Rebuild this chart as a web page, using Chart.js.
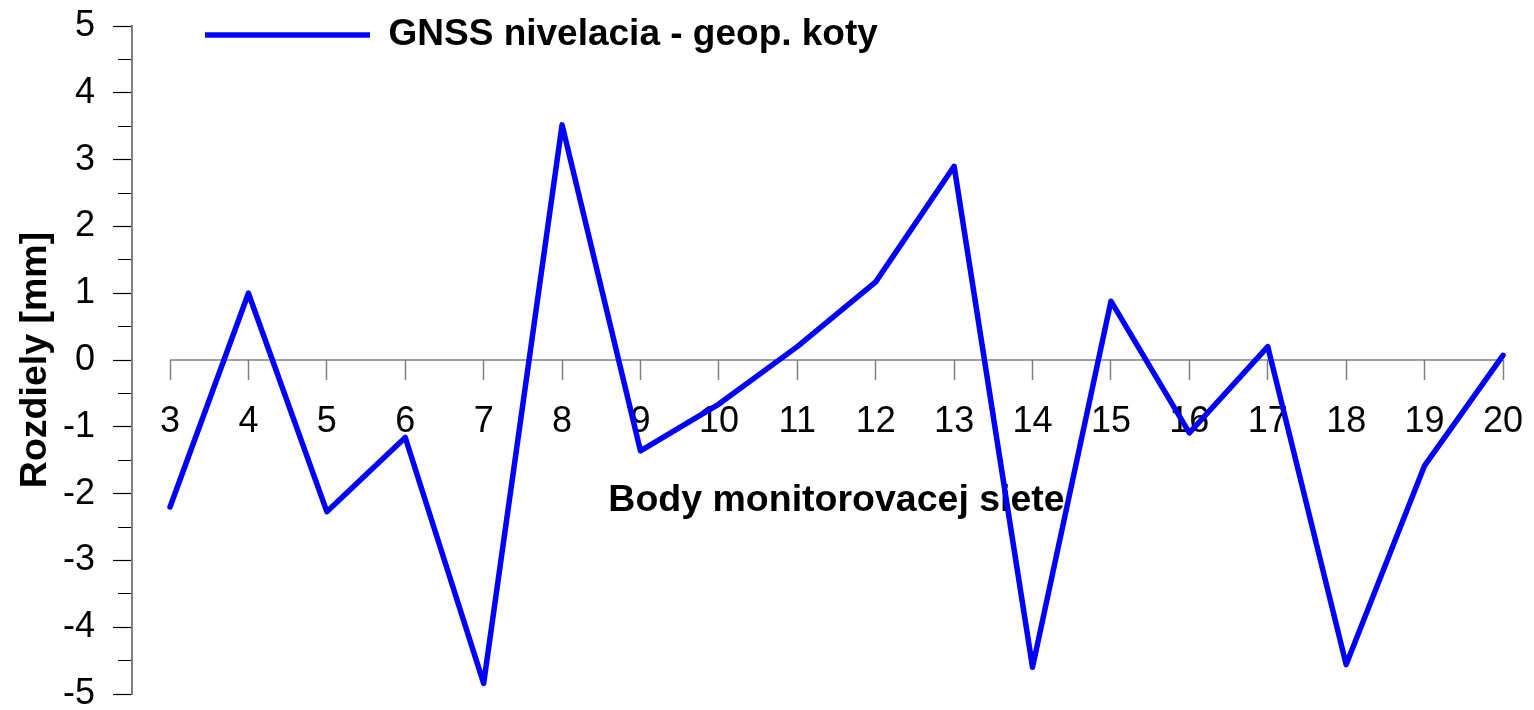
<!DOCTYPE html>
<html>
<head>
<meta charset="utf-8">
<script src="https://cdn.jsdelivr.net/npm/chart.js@4.4.1/dist/chart.umd.min.js"></script>
<style>
  html, body { margin: 0; padding: 0; background: #fff; }
  #wrap { width: 1534px; height: 710px; }
</style>
</head>
<body>
<div id="wrap"><canvas id="myChart" width="1534" height="710"></canvas></div>
<script>
// body numbers of the monitoring net and the height differences [mm]
const points = [3, 4, 5, 6, 7, 8, 9, 10, 11, 12, 13, 14, 15, 16, 17, 18, 19, 20];
const differences = [-2.2, 1.0, -2.27, -1.16, -4.84, 3.52, -1.36, -0.66, 0.2, 1.17, 2.9, -4.6, 0.88, -1.09, 0.2, -4.56, -1.58, 0.07];
const seriesLabel = 'GNSS nivelacia - geop. koty';
// zero line between first and last point (stands in for the x axis line)
const axisX = [3, 20];
const axisY = [0, 0];

const fontFamily = 'Arial, "Liberation Sans", sans-serif';

// legend sits inside the plot, upper left; x title centred under the zero line
const layoutTweaks = {
  id: 'layoutTweaks',
  afterLayout(chart) {
    const area = chart.chartArea;
    chart.legend.left = area.left + 73;
    chart.legend.top = area.top - 9.5;
    const x = chart.scales.x;
    x.left = x.getPixelForValue(points[0]);
  },
};

const chartConfig = {
  type: 'line',
  data: {
    datasets: [
      {
        label: seriesLabel,
        data: points.map((p, i) => ({ x: p, y: differences[i] })),
        borderColor: '#0000ff',
        backgroundColor: '#0000ff',
        borderWidth: 5.5,
        borderJoinStyle: 'round',
        borderCapStyle: 'round',
        pointRadius: 0,
        tension: 0,
        clip: false,
      },
      {
        label: 'axis',
        data: axisX.map((p, i) => ({ x: p, y: axisY[i] })),
        borderColor: '#808080',
        borderWidth: 1.5,
        pointRadius: 0,
        clip: false,
      },
    ],
  },
  options: {
    responsive: false,
    animation: false,
    layout: { padding: { top: 26, right: 31, bottom: 16, left: 0 } },
    plugins: {
      tooltip: { enabled: false },
      legend: {
        position: 'chartArea',
        align: 'start',
        labels: {
          filter: (item) => item.text === seriesLabel,
          usePointStyle: true,
          pointStyle: 'line',
          pointStyleWidth: 165,
          padding: 0,
          color: '#000',
          font: { family: fontFamily, size: 37, weight: 'bold' },
        },
      },
    },
    scales: {
      x: {
        type: 'linear',
        position: { y: 0 },
        min: 2.515,
        max: 20,
        afterBuildTicks: (scale) => {
          scale.ticks = points.map((p) => ({ value: p }));
        },
        afterFit: (scale) => {
          scale.paddingLeft = 0;
          scale.paddingRight = 0;
        },
        border: { display: false },
        grid: {
          drawOnChartArea: false,
          tickLength: 20,
          tickColor: '#808080',
          tickWidth: 1.5,
        },
        ticks: {
          autoSkip: false,
          maxRotation: 0,
          padding: 20,
          color: '#000',
          font: { family: fontFamily, size: 36 },
          callback: (v) => String(v),
        },
        title: {
          display: true,
          text: 'Body monitorovacej siete',
          color: '#000',
          padding: { top: 15, bottom: 0 },
          font: { family: fontFamily, size: 37.5, weight: 'bold' },
        },
      },
      y: {
        position: 'left',
        min: -5,
        max: 5,
        afterFit: (scale) => {
          scale.width = 132;
          scale.paddingTop = 0;
          scale.paddingBottom = 0;
        },
        border: { display: true, color: '#808080', width: 2 },
        grid: {
          drawOnChartArea: false,
          tickLength: 19,
          tickColor: '#000',
          tickWidth: 1.2,
          tickBorderDash: (ctx) => (Number.isInteger(ctx.tick.value) ? [] : [0, 5, 100]),
        },
        ticks: {
          stepSize: 0.5,
          autoSkip: false,
          padding: 18,
          color: '#000',
          font: { family: fontFamily, size: 36 },
          callback: (v) => (Number.isInteger(v) ? String(v) : ''),
        },
        title: {
          display: true,
          text: 'Rozdiely [mm]',
          color: '#000',
          padding: { top: 13, bottom: 0 },
          font: { family: fontFamily, size: 37.5, weight: 'bold' },
        },
      },
    },
  },
  plugins: [layoutTweaks],
};

const ctx = document.getElementById('myChart').getContext('2d');
const chart = new Chart(ctx, chartConfig);
</script>
</body>
</html>
